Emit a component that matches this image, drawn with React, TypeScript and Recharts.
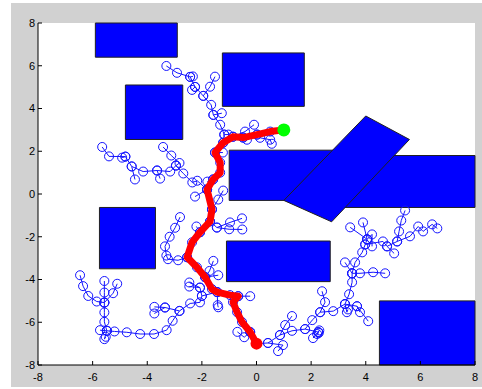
import { CartesianGrid, ReferenceArea, Scatter, ScatterChart, XAxis, YAxis } from 'recharts';

type Pt = { x: number; y: number };
const pts = (...xy: number[][]): Pt[] => xy.map(([x, y]) => ({ x, y }));

const ticks = [-8, -6, -4, -2, 0, 2, 4, 6, 8];

const startPoint = pts([0, -7]);
const goalPoint = pts([1, 3]);

const obstacles = [
  { x1: -5.9, x2: -2.9, y1: 6.4, y2: 8 },
  { x1: -1.25, x2: 1.75, y1: 4.1, y2: 6.6 },
  { x1: -4.8, x2: -2.7, y1: 2.55, y2: 5.1 },
  { x1: -1, x2: 3.2, y1: -0.3, y2: 2.05 },
  { x1: 3, x2: 8, y1: -0.63, y2: 1.8 },
  { x1: -1.1, x2: 2.7, y1: -4.1, y2: -2.2 },
  { x1: -5.75, x2: -3.7, y1: -3.5, y2: -0.63 },
  { x1: 4.5, x2: 8, y1: -8, y2: -5 },
];
const tiltedBlock = pts([1, -0.3], [4, 3.65], [5.6, 2.55], [2.75, -1.3]);

const pathPoints = pts(
  [0, -7], [-0.23, -6.46], [-0.53, -5.99], [-0.71, -5.53], [-0.86, -5.06], [-0.67, -4.78],
  [-0.97, -4.73], [-1.44, -4.59], [-1.63, -4.45], [-1.88, -3.89], [-2.18, -3.43], [-2.54, -2.96],
  [-2.36, -2.26], [-2.07, -1.79], [-1.7, -1.28], [-1.63, -0.72], [-1.81, 0.21], [-1.59, 0.68],
  [-1.33, 1.0], [-1.33, 1.47], [-1.52, 1.94], [-1.22, 2.4], [-0.86, 2.68], [-0.49, 2.64],
  [0.02, 2.78], [0.5, 2.92], [1, 3],
);

const rightTree = [
  pts([0, -7], [0.42, -6.97], [0.86, -6.6], [1.05, -6.13], [1.3, -5.71]),
  pts([0.42, -6.97], [0.97, -7.07], [0.79, -7.35]),
  pts([0.86, -6.6], [1.3, -6.4], [1.78, -6.32], [2.26, -6.46], [2.07, -6.74]),
  pts([2.26, -6.46], [2.3, -6.38], [2.22, -6.55], [2.28, -6.5]),
  pts([1.78, -6.32], [2.04, -5.9], [2.33, -5.53], [2.51, -5.06], [2.4, -4.55]),
  pts([2.33, -5.53], [2.81, -5.48], [3.24, -5.15], [3.68, -5.25], [4.09, -5.95]),
  pts([3.24, -5.15], [3.31, -5.53], [3.35, -5.4]),
  pts([3.68, -5.25], [3.79, -5.53]),
  pts([3.24, -5.15], [3.39, -4.69], [3.5, -4.13], [3.5, -3.71], [3.24, -3.2]),
  pts([3.5, -3.71], [3.79, -3.71], [4.27, -3.66], [4.71, -3.71]),
  pts([3.5, -3.71], [3.61, -3.2], [3.87, -2.73], [3.98, -2.36], [4.05, -2.12], [3.9, -1.33]),
  pts([4.05, -2.12], [3.43, -1.56]),
  pts([4.05, -2.12], [4.23, -1.89], [4.23, -2.45]),
  pts([3.98, -2.36], [4.63, -2.22], [4.78, -2.45], [5.04, -2.78]),
  pts([4.78, -2.45], [5.15, -2.22], [5.22, -1.75], [5.3, -1.24], [5.44, -0.77]),
  pts([5.15, -2.22], [5.62, -1.98], [5.92, -1.52], [6.1, -1.75], [6.43, -1.42], [6.62, -1.61]),
];

const leftBottomTree = [
  pts([-1.44, -4.59], [-2.0, -4.77], [-2.07, -5.07], [-2.43, -5.12], [-2.82, -5.47], [-3.07, -5.93],
    [-3.29, -6.37], [-3.75, -6.55], [-4.26, -6.55], [-4.75, -6.47], [-5.2, -6.43], [-5.48, -6.4], [-5.73, -6.37]),
  pts([-5.48, -6.4], [-5.57, -6.79], [-5.52, -6.68]),
  pts([-5.48, -6.4], [-5.57, -5.98], [-5.57, -5.54], [-5.57, -5.08], [-5.57, -4.61], [-5.57, -4.07]),
  pts([-5.57, -5.08], [-5.85, -5.03], [-6.16, -4.77], [-6.35, -4.31], [-6.46, -3.8]),
  pts([-5.57, -5.08], [-5.25, -4.64], [-5.1, -4.2]),
  pts([-2.82, -5.47], [-3.35, -5.31], [-3.74, -5.28]),
  pts([-3.35, -5.31], [-3.74, -5.59]),
  pts([-2.0, -4.77], [-2.07, -4.38], [-2.46, -4.14]),
  pts([-2.07, -4.38], [-2.46, -4.33]),
  pts([-1.88, -3.89], [-1.4, -3.8]),
  pts([-1.88, -3.89], [-1.72, -3.6], [-1.58, -3.13]),
  pts([-1.44, -4.59], [-1.42, -5.2], [-1.4, -5.3]),
  pts([-0.67, -4.78], [-0.23, -4.78]),
  pts([-0.23, -6.46], [-0.45, -6.7], [-0.7, -6.45]),
];

const middleTree = [
  pts([-2.54, -2.96], [-2.87, -3.1], [-3.24, -3.05], [-3.3, -2.88], [-3.35, -2.45], [-3.18, -2.0], [-2.98, -1.58], [-2.8, -1.08]),
  pts([-1.7, -1.28], [-1.45, -1.57], [-0.97, -1.33], [-0.53, -1.14]),
  pts([-1.45, -1.57], [-1.0, -1.65], [-0.52, -1.66]),
  pts([-2.07, -1.79], [-2.2, -1.52]),
  pts([-1.63, -0.72], [-1.4, -0.26], [-1.22, 0.16]),
  pts([-1.81, 0.21], [-2.25, -0.12]),
];

const upperLeftTree = [
  pts([-1.81, 0.21], [-2.17, 0.62], [-2.35, 0.54], [-2.68, 0.96], [-2.95, 1.33], [-3.16, 1.05], [-3.64, 1.1],
    [-4.15, 1.05], [-4.57, 1.29], [-4.8, 1.75], [-5.4, 1.76], [-5.65, 2.2]),
  pts([-4.57, 1.29], [-4.45, 0.68]),
  pts([-4.8, 1.75], [-4.92, 1.7]),
  pts([-3.64, 1.1], [-3.53, 0.72]),
  pts([-2.95, 1.33], [-2.82, 1.45], [-3.12, 1.8], [-3.42, 2.2]),
  pts([-1.59, 0.68], [-1.8, 0.58]),
];

const upperTree = [
  pts([-1.22, 2.4], [-1.18, 2.78], [-1.33, 3.24], [-1.58, 3.7], [-1.66, 4.17], [-1.95, 4.59], [-2.25, 5.01],
    [-2.43, 5.48], [-2.91, 5.67], [-3.3, 5.99]),
  pts([-2.25, 5.01], [-2.36, 4.87]),
  pts([-2.43, 5.48], [-2.33, 5.5]),
  pts([-1.95, 4.59], [-1.7, 5.02], [-1.52, 5.49]),
  pts([-1.58, 3.7], [-1.27, 3.78]),
  pts([-1.18, 2.78], [-1.03, 2.78]),
  pts([-0.86, 2.68], [-0.42, 2.92], [-0.09, 3.24]),
  pts([-0.49, 2.64], [-0.35, 2.54]),
  pts([0.02, 2.78], [0.13, 2.63], [0.5, 2.54], [0.56, 2.35]),
  pts([-1.52, 1.94], [-1.23, 1.94]),
];

const branches = [pathPoints, ...rightTree, ...leftBottomTree, ...middleTree, ...upperLeftTree, ...upperTree];

const Ring = (p: any) => <circle cx={p.cx} cy={p.cy} r={4.5} fill="none" stroke="#1414ff" strokeWidth={1} />;
const Nothing = () => <g />;
const Block = (p: any) => (
  <polygon
    points={p.points.map((q: any) => `${q.x},${q.y}`).join(' ')}
    fill="#0000ff"
    stroke="#202020"
    strokeWidth={1}
  />
);

const tickStyle = { fill: '#000', fontSize: 11, fontFamily: 'Liberation Sans, Arial, sans-serif' };

export default function App() {
  return (
    <div style={{ position: 'absolute', left: 0, top: 0, width: 482, height: 389, background: '#fff' }}>
      <div style={{ position: 'absolute', left: 11, top: 3, width: 471, height: 384, background: '#d1d1d1' }}>
        <ScatterChart width={471} height={384} margin={{ top: 20, right: 7, bottom: 0, left: 0 }}>
          <CartesianGrid horizontal={false} vertical={false} fill="#fff" />
          <XAxis
            type="number"
            dataKey="x"
            domain={[-8, 8]}
            ticks={ticks}
            interval={0}
            height={22}
            tickSize={-4}
            tickMargin={12}
            axisLine={{ stroke: '#000' }}
            tickLine={{ stroke: '#000' }}
            tick={tickStyle}
          />
          <YAxis
            type="number"
            dataKey="y"
            domain={[-8, 8]}
            ticks={ticks}
            interval={0}
            width={27}
            tickSize={-4}
            tickMargin={7}
            axisLine={{ stroke: '#000' }}
            tickLine={{ stroke: '#000' }}
            tick={tickStyle}
          />
          {branches.map((b, i) => (
            <Scatter
              key={`b${i}`}
              data={b}
              line={{ stroke: '#1414ff', strokeWidth: 1 }}
              shape={Ring}
              isAnimationActive={false}
            />
          ))}
          {obstacles.map((o, i) => (
            <ReferenceArea
              key={`o${i}`}
              x1={o.x1}
              x2={o.x2}
              y1={o.y1}
              y2={o.y2}
              fill="#0000ff"
              fillOpacity={1}
              stroke="#202020"
              strokeWidth={1}
            />
          ))}
          <Scatter data={tiltedBlock} line={Block} shape={Nothing} isAnimationActive={false} />
          <Scatter
            data={pathPoints}
            line={{ stroke: '#ff0000', strokeWidth: 7, strokeLinejoin: 'round', strokeLinecap: 'round' }}
            shape={Nothing}
            isAnimationActive={false}
          />
          <Scatter
            data={startPoint}
            shape={(p: any) => <circle cx={p.cx} cy={p.cy} r={6} fill="#ff0000" />}
            isAnimationActive={false}
          />
          <Scatter
            data={goalPoint}
            shape={(p: any) => <circle cx={p.cx} cy={p.cy} r={6.5} fill="#00ff00" />}
            isAnimationActive={false}
          />
        </ScatterChart>
      </div>
    </div>
  );
}
